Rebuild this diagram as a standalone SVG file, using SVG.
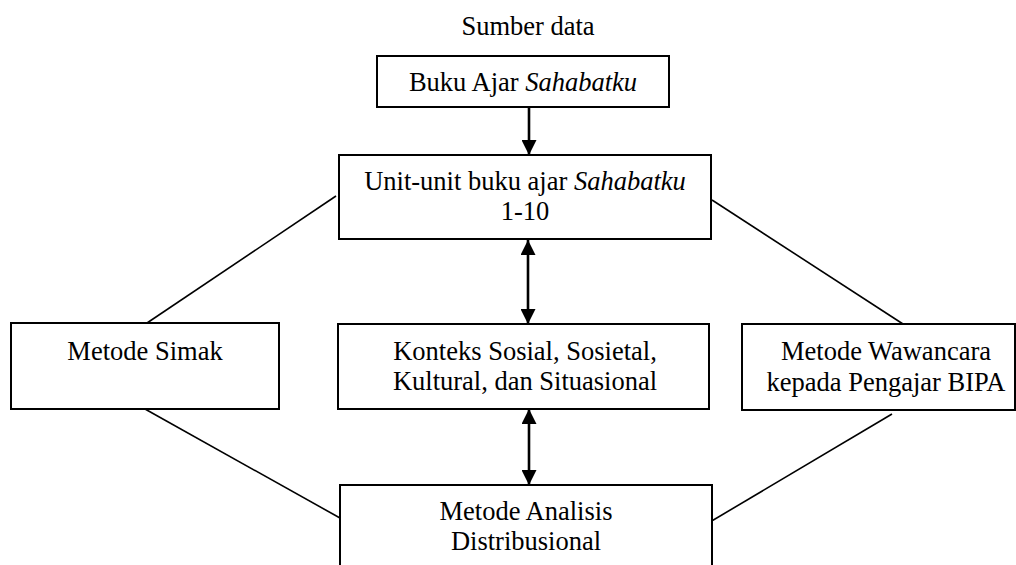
<svg xmlns="http://www.w3.org/2000/svg" width="1016" height="565" viewBox="0 0 1016 565">
<style>
.box{fill:#fff;stroke:#000;stroke-width:2}
.t{font-family:'Liberation Serif','Times New Roman','DejaVu Serif',serif;font-size:26.5px;fill:#000;text-anchor:middle}
.ln{stroke:#000;stroke-width:1.6;fill:none}
.ar{stroke:#000;stroke-width:2.6;fill:none}
</style>
<defs>
<marker id="ah" viewBox="0 0 15 15" refX="15" refY="7.5" markerWidth="15" markerHeight="15" markerUnits="userSpaceOnUse" orient="auto-start-reverse">
<path d="M0,0 L15,7.5 L0,15 Z" fill="#000"/>
</marker>
</defs>
<g font-family="Liberation Serif, Times New Roman, DejaVu Serif, serif">
<text class="t" x="528" y="35">Sumber data</text>
<g id="connectors">
<line class="ar" x1="529" y1="107" x2="529" y2="155" marker-end="url(#ah)"/>
<line class="ar" x1="528" y1="240" x2="528" y2="324" marker-start="url(#ah)" marker-end="url(#ah)"/>
<line class="ar" x1="529" y1="409" x2="529" y2="485" marker-start="url(#ah)" marker-end="url(#ah)"/>
<line class="ln" x1="336" y1="196" x2="147" y2="323"/>
<line class="ln" x1="145" y1="409" x2="340" y2="518"/>
<line class="ln" x1="712" y1="200" x2="903" y2="324"/>
<line class="ln" x1="892" y1="414" x2="710" y2="522"/>
</g>
<g id="buku">
<rect class="box" x="377" y="56" width="292" height="51"/>
<text class="t" x="523" y="91">Buku Ajar <tspan font-style="italic">Sahabatku</tspan></text>
</g>
<g id="unit">
<rect class="box" x="339" y="155" width="372" height="84"/>
<text class="t" x="525" y="190">Unit-unit buku ajar <tspan font-style="italic">Sahabatku</tspan></text>
<text class="t" x="525" y="220">1-10</text>
</g>
<g id="simak">
<rect class="box" x="11" y="323" width="268" height="86"/>
<text class="t" x="145" y="360">Metode Simak</text>
</g>
<g id="konteks">
<rect class="box" x="338" y="324" width="371" height="85"/>
<text class="t" x="525" y="360">Konteks Sosial, Sosietal,</text>
<text class="t" x="525" y="390">Kultural, dan Situasional</text>
</g>
<g id="wawancara">
<rect class="box" x="742" y="324" width="273" height="86"/>
<text class="t" x="886" y="360">Metode Wawancara</text>
<text class="t" x="886" y="391">kepada Pengajar BIPA</text>
</g>
<g id="analisis">
<rect class="box" x="340" y="485" width="372" height="100"/>
<text class="t" x="526" y="520">Metode Analisis</text>
<text class="t" x="526" y="550">Distribusional</text>
</g>
</g>
</svg>
